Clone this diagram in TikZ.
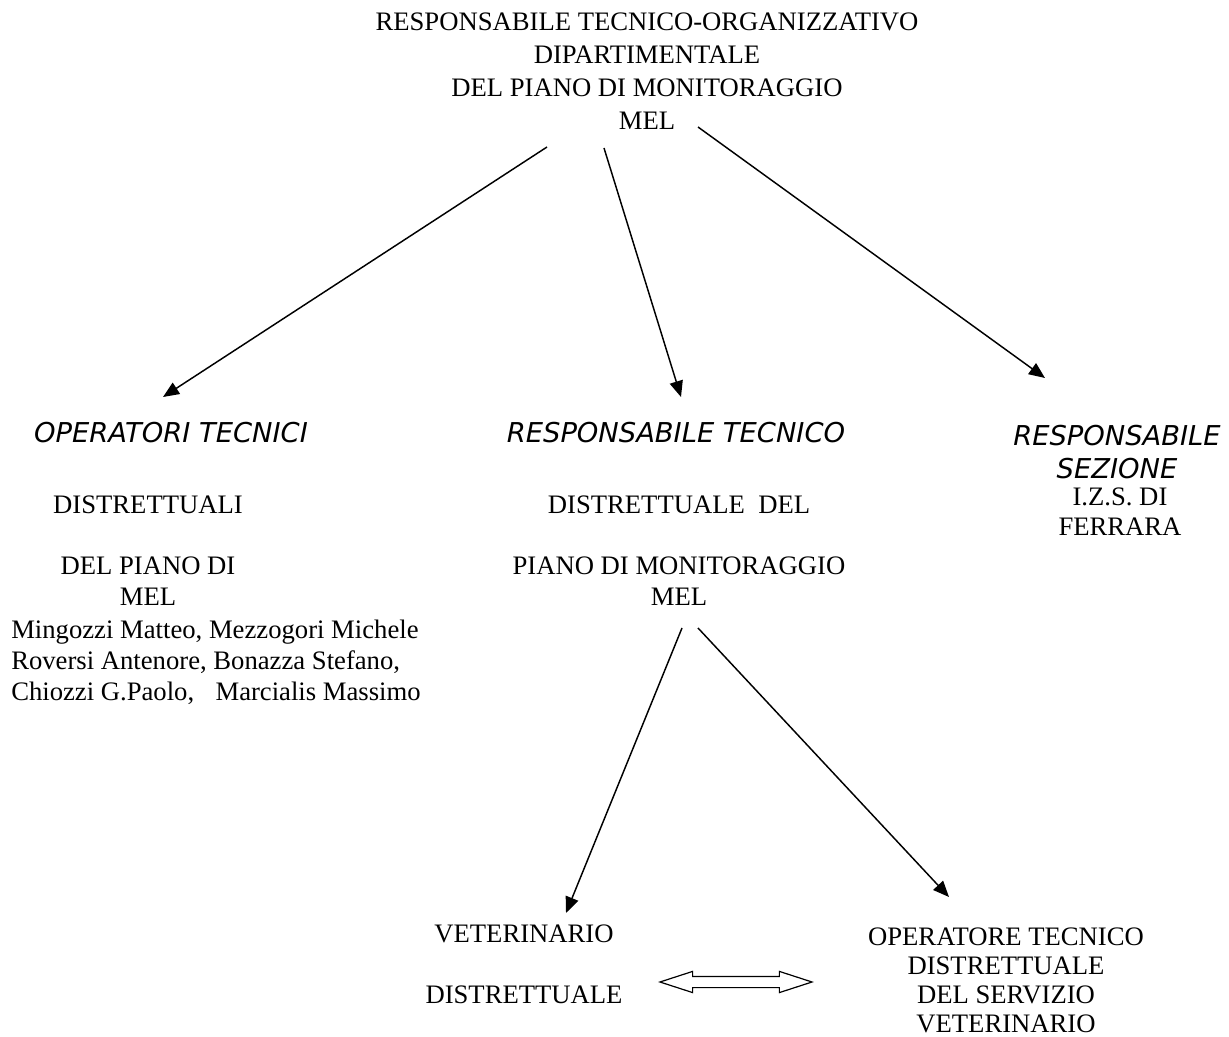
\documentclass[tikz,border=0pt]{standalone}
\usepackage{fontspec}
\setmainfont{Liberation Serif}
\newfontfamily\comicfont{DejaVu Sans}
\usetikzlibrary{arrows.meta,shapes.arrows}

\begin{document}
\begin{tikzpicture}[x=0.75pt,y=-0.75pt]
    \tikzstyle{every node} = [inner sep=0pt, align=center, font=\fontsize{20}{23.25}\selectfont]
    \tikzstyle{head} = [font=\comicfont\itshape\fontsize{20.5}{24.75}\selectfont]
    \tikzstyle{arr} = [line width=1.1pt, -{Triangle[length=12pt, width=10pt]}]
    \useasboundingbox (0,0) rectangle (1229,1037);

    \node[anchor=north] (top) at (647,13) {RESPONSABILE TECNICO-ORGANIZZATIVO\\[1.5pt]
        DIPARTIMENTALE\\[1.5pt] DEL PIANO DI MONITORAGGIO\\[1.5pt] MEL};

    \node[head, anchor=base] (ophead) at (171,443) {OPERATORI TECNICI};
    \node[anchor=north] (opbody) at (148,496) {DISTRETTUALI\\[22.5pt] DEL PIANO DI\\ MEL};
    \node[anchor=north west, align=left] (names) at (11,620) {Mingozzi Matteo, Mezzogori Michele\\
        Roversi Antenore, Bonazza Stefano,\\ Chiozzi G.Paolo,\hspace{16pt}Marcialis Massimo};

    \node[head, anchor=base] (mhead) at (676,443) {RESPONSABILE TECNICO};
    \node[anchor=north] (mbody) at (679,496) {DISTRETTUALE\ \ DEL\\[22.5pt] PIANO DI MONITORAGGIO\\ MEL};

    \node[head, anchor=north] (rhead) at (1117,425) {RESPONSABILE\\ SEZIONE};
    \node[anchor=north] (rbody) at (1120,488) {I.Z.S. DI\\[-0.75pt] FERRARA};

    \node[anchor=north] (vet) at (524,925) {VETERINARIO\\[22.5pt] DISTRETTUALE};
    \node[anchor=north] (optec) at (1006,928) {OPERATORE TECNICO\\[-1.5pt] DISTRETTUALE\\[-1.5pt]
        DEL SERVIZIO\\[-1.5pt] VETERINARIO};

    \node[double arrow, draw, line width=0.9pt, minimum height=114pt, minimum width=15pt,
        double arrow head extend=3.75pt, double arrow tip angle=36,
        inner xsep=0pt, inner ysep=3.75pt] (link) at (736,982) {};

    \coordinate (a1) at (547,147); \coordinate (b1) at (163,397);
    \coordinate (a2) at (604,148); \coordinate (b2) at (681,397);
    \coordinate (a3) at (698,127); \coordinate (b3) at (1045,378);
    \coordinate (a4) at (682,628); \coordinate (b4) at (566,913);
    \coordinate (a5) at (698,628); \coordinate (b5) at (949,897);
    \foreach \from/\to in {a1/b1, a2/b2, a3/b3, a4/b4, a5/b5}
        \draw[arr] (\from) -- (\to);
\end{tikzpicture}
\end{document}
